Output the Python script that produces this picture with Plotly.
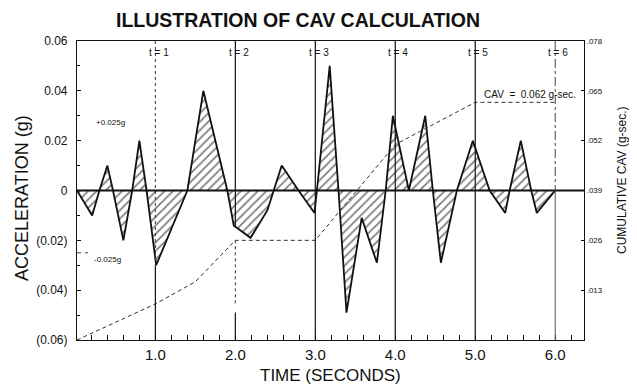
import plotly.graph_objects as go

# ---- data ----
time_s = [0.02, 0.21, 0.30, 0.40, 0.47, 0.60, 0.71, 0.80, 0.89, 1.01, 1.40, 1.60, 1.90,
          1.98, 2.19, 2.40, 2.48, 2.58, 2.79, 2.99, 3.02, 3.18, 3.29, 3.39, 3.58, 3.77,
          3.88, 3.97, 4.17, 4.375, 4.47, 4.57, 4.77, 4.97, 5.18, 5.375, 5.43, 5.57, 5.70,
          5.77, 6.00]
accel_g = [0, -0.010, 0, 0.010, 0, -0.020, 0, 0.020, 0, -0.030, 0, 0.040, 0,
           -0.014, -0.019, -0.008, 0, 0.010, 0, -0.009, 0, 0.050, 0, -0.049, -0.011, -0.029,
           0, 0.030, 0, 0.030, 0, -0.029, 0, 0.020, 0, -0.009, 0, 0.020, 0,
           -0.009, 0]

cav_time = [0.02, 1.0, 1.5, 2.0, 3.0, 3.5, 4.0, 4.5, 5.0, 6.0]
cav_value = [0.0, 0.0094, 0.0152, 0.026, 0.026, 0.0385, 0.051, 0.0565, 0.062, 0.062]

second_marks = [1, 2, 3, 4, 5, 6]
second_labels = ["t = 1", "t = 2", "t = 3", "t = 4", "t = 5", "t = 6"]

x_tick_vals = [1, 2, 3, 4, 5, 6]
x_tick_text = ["1.0", "2.0", "3.0", "4.0", "5.0", "6.0"]
y_tick_vals = [-0.06, -0.04, -0.02, 0, 0.02, 0.04, 0.06]
y_tick_text = ["(0.06)", "(0.04)", "(0.02)", "0", "0.02", "0.04", "0.06"]
y2_tick_vals = [0.013, 0.026, 0.039, 0.052, 0.065, 0.078]
y2_tick_text = [".013", ".026", ".039", ".052", ".065", ".078"]

threshold_g = 0.025
final_cav = 0.062

FONT = "Liberation Sans, Arial, Helvetica, sans-serif"
INK = "#111111"

# page body has an 8px margin: figure pixel = screen pixel - 8
W, H = 629, 377
L, T, PW, PH = 69, 33, 507, 299


def px_x(sx):  # screen x -> paper x
    return (sx - 8 - L) / PW


def px_y(sy):  # screen y -> paper y
    return (T + PH - (sy - 8)) / PH


fig = go.Figure()

fig.add_trace(go.Scatter(
    x=time_s, y=accel_g, mode="lines",
    line=dict(color=INK, width=1.8),
    fill="tozeroy",
    fillcolor="rgba(0,0,0,0)",
    fillpattern=dict(shape="/", fgcolor="#000000", bgcolor="rgba(255,255,255,0)",
                     size=6, solidity=0.3),
    showlegend=False, hoverinfo="skip",
))

fig.add_trace(go.Scatter(
    x=cav_time, y=cav_value, mode="lines", yaxis="y2",
    line=dict(color="#333333", width=1, dash="4px,3px"),
    showlegend=False, hoverinfo="skip",
))

# zero line
fig.add_shape(type="line", xref="paper", yref="y", x0=0, x1=1, y0=0, y1=0,
              line=dict(color=INK, width=2), layer="above")

# vertical second markers
for s in second_marks:
    if s == 1:
        fig.add_shape(type="line", xref="x", yref="y", x0=s, x1=s, y0=0.06, y1=-0.03,
                      line=dict(color="#333", width=1, dash="dot"))
        fig.add_shape(type="line", xref="x", yref="y", x0=s, x1=s, y0=-0.03, y1=-0.06,
                      line=dict(color=INK, width=1.2))
    elif s == 2:
        fig.add_shape(type="line", xref="x", yref="y", x0=s, x1=s, y0=0.06, y1=-0.015,
                      line=dict(color=INK, width=1.2))
        fig.add_shape(type="line", xref="x", yref="y", x0=s, x1=s, y0=-0.02, y1=-0.046,
                      line=dict(color="#333", width=1, dash="dot"))
        fig.add_shape(type="line", xref="x", yref="y", x0=s, x1=s, y0=-0.049, y1=-0.06,
                      line=dict(color=INK, width=1.2))
    elif s == 6:
        fig.add_shape(type="line", xref="x", yref="y", x0=s, x1=s, y0=0.06, y1=0,
                      line=dict(color="#444", width=1, dash="dashdot"))
        fig.add_shape(type="line", xref="x", yref="y", x0=s, x1=s, y0=0, y1=-0.06,
                      line=dict(color="#555", width=1))
    else:
        fig.add_shape(type="line", xref="x", yref="y", x0=s, x1=s, y0=0.06, y1=-0.06,
                      line=dict(color=INK, width=1.2))

for s, lab in zip(second_marks, second_labels):
    fig.add_annotation(x=s + 0.04, y=px_y(53), xref="x", yref="paper", text=lab,
                       showarrow=False, font=dict(size=10, color=INK, family=FONT),
                       xanchor="center", yanchor="middle")

# threshold marks
fig.add_shape(type="line", xref="x", yref="y", x0=0.02, x1=0.16,
              y0=-threshold_g, y1=-threshold_g,
              line=dict(color="#444", width=1, dash="4px,4px"))
fig.add_annotation(x=0.44, y=0.0272, xref="x", yref="y", text="+0.025g", showarrow=False,
                   font=dict(size=8, color=INK, family=FONT), xanchor="center")
fig.add_annotation(x=0.40, y=-0.0276, xref="x", yref="y", text="-0.025g", showarrow=False,
                   font=dict(size=8, color=INK, family=FONT), xanchor="center")

# final CAV label
fig.add_annotation(x=5.68, y=final_cav, xref="x", yref="y2",
                   text="CAV  =  0.062 g-sec.", showarrow=False, yshift=8,
                   xanchor="center",
                   font=dict(size=10, color=INK, family=FONT))

# axis titles as annotations
fig.add_annotation(x=px_x(22), y=px_y(198), xref="paper", yref="paper",
                   text="ACCELERATION (g)", textangle=-90, showarrow=False,
                   xanchor="center", yanchor="middle",
                   font=dict(size=18, color=INK, family=FONT))
fig.add_annotation(x=px_x(330), y=px_y(375), xref="paper", yref="paper",
                   text="TIME (SECONDS)", showarrow=False,
                   xanchor="center", yanchor="middle",
                   font=dict(size=17, color=INK, family=FONT))
fig.add_annotation(x=px_x(622), y=px_y(180), xref="paper", yref="paper",
                   text="CUMULATIVE CAV (g-sec.)", textangle=-90, showarrow=False,
                   xanchor="center", yanchor="middle",
                   font=dict(size=12, color=INK, family=FONT))

fig.update_layout(
    width=W, height=H,
    margin=dict(l=L, r=W - L - PW, t=T, b=H - T - PH, autoexpand=False),
    paper_bgcolor="white", plot_bgcolor="white",
    font=dict(family=FONT, color=INK),
    title=dict(text="<b>ILLUSTRATION OF CAV CALCULATION</b>",
               x=(298 - 8) / W, xanchor="center", y=1 - (20 - 8) / H, yanchor="middle",
               font=dict(size=19.5, color=INK, family=FONT)),
    xaxis=dict(range=[0.02, 6.36], tickvals=x_tick_vals, ticktext=x_tick_text,
               ticks="inside", ticklen=5, tickcolor=INK, showgrid=False, zeroline=False,
               showline=True, linecolor=INK, linewidth=1.2, mirror=True,
               tickfont=dict(size=15, color=INK), ticklabelstandoff=1,
               minor=dict(dtick=0.2, tick0=0, ticks="inside", ticklen=5, tickcolor=INK)),
    yaxis=dict(range=[-0.06, 0.06], tickvals=y_tick_vals, ticktext=y_tick_text,
               ticks="inside", ticklen=4, tickcolor=INK, showgrid=False, zeroline=False,
               showline=True, linecolor=INK, linewidth=1.2,
               tickfont=dict(size=12, color=INK), ticklabelstandoff=6,
               minor=dict(dtick=0.01, tick0=0, ticks="inside", ticklen=3, tickcolor=INK)),
    yaxis2=dict(range=[0, 0.078], overlaying="y", side="right",
                tickvals=y2_tick_vals, ticktext=y2_tick_text,
                ticks="inside", ticklen=3, tickcolor=INK, showgrid=False, zeroline=False,
                showline=True, linecolor=INK, linewidth=1.2,
                tickfont=dict(size=8, color=INK), ticklabelstandoff=0),
)

fig.write_html("out.html")
